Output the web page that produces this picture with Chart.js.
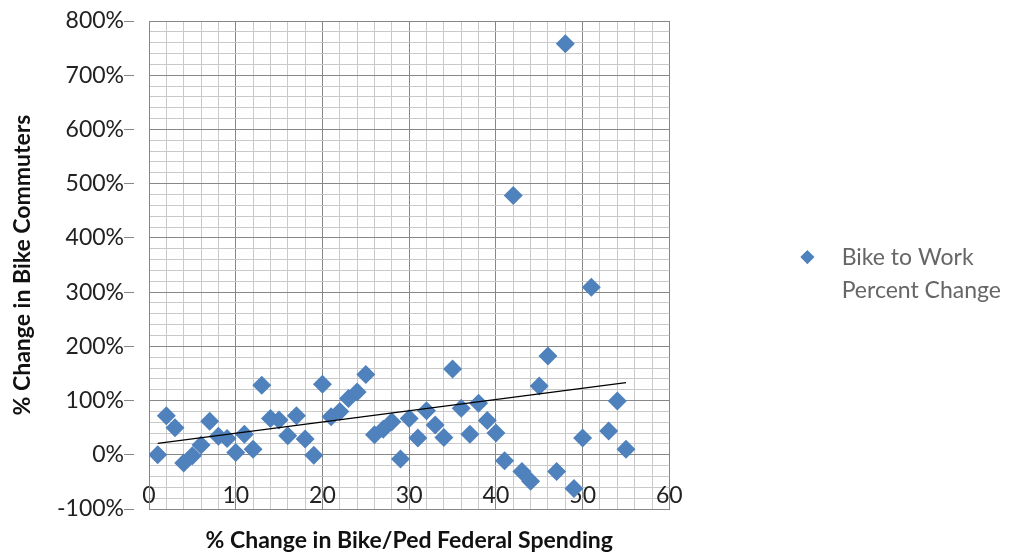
<!DOCTYPE html>
<html>
<head>
<meta charset="utf-8">
<script src="https://cdn.jsdelivr.net/npm/chart.js@4"></script>
<style>
html,body{margin:0;padding:0;background:#fff;}
#wrap{width:1011px;height:554px;position:relative;}
</style>
</head>
<body>
<div id="wrap"><canvas id="c"></canvas></div>
<script>
const seriesName = ['Bike to Work', 'Percent Change'];
const spendingChange = [1,2,3,4,5,6,7,8,9,10,11,12,13,14,15,16,17,18,19,20,21,22,23,24,25,26,27,28,29,30,31,32,33,34,35,36,37,38,39,40,41,42,43,44,45,46,47,48,49,50,51,53,54,55];
const commuterChange = [0,72,50,-15,-2,18,62,34,30,4,38,10,128,67,64,35,72,29,-1,130,70,80,104,116,148,37,47,61,-8,67,31,81,55,32,158,86,38,95,63,40,-11,478,-31,-49,127,182,-31,758,-62,31,309,44,99,10];
const trendX = [1, 55];
const trendY = [21, 133];
const xTitle = '% Change in Bike/Ped Federal Spending';
const yTitle = '% Change in Bike Commuters';

const FONT = 'Lato, Carlito, "Liberation Sans", sans-serif';
const MAJOR = '#878787', MINOR = '#c9c9c9', BLUE = '#4F81BD';

const pts = spendingChange.map((x, i) => ({x: x, y: commuterChange[i]}));
const trend = trendX.map((x, i) => ({x: x, y: trendY[i]}));

new Chart(document.getElementById('c'), {
  type: 'scatter',
  data: {
    datasets: [
      {label: seriesName.join(' '), data: pts, pointStyle: 'rectRot', pointRadius: 9.5, pointHoverRadius: 9.5,
       backgroundColor: BLUE, borderColor: BLUE, borderWidth: 0, order: 1},
      {type: 'line', label: 'trend', data: trend, borderColor: '#000', borderWidth: 1.2, pointRadius: 0,
       fill: false, order: 0}
    ]
  },
  options: {
    responsive: true,
    maintainAspectRatio: false,
    animation: false,
    events: [],
    layout: {padding: {left: 0, right: 0, top: 21, bottom: 0}},
    scales: {
      x: {
        type: 'linear', min: 0, max: 60,
        ticks: {stepSize: 2, autoSkip: false, maxRotation: 0, mirror: true, padding: 0,
          color: '#222', font: {family: FONT, size: 23},
          callback: v => (v % 10 === 0 ? String(v) : '')},
        grid: {drawTicks: false, lineWidth: 1,
          color: c => (c.tick && c.tick.value % 10 === 0 ? MAJOR : MINOR)},
        border: {color: MAJOR, width: 1},
        title: {display: true, text: xTitle, color: '#111',
          font: {family: FONT, size: 23, weight: 'bold'}, padding: {top: 0, bottom: 0}},
        afterFit: s => { s.height = 45; }
      },
      y: {
        type: 'linear', min: -100, max: 800, position: 'left',
        ticks: {stepSize: 20, autoSkip: false, padding: 0,
          color: '#222', font: {family: FONT, size: 23},
          callback: v => (v % 100 === 0 ? v + '%' : '')},
        grid: {drawTicks: true, tickLength: 25, tickBorderDash: [10, 30], lineWidth: 1,
          color: c => (c.tick && c.tick.value % 100 === 0 ? MAJOR : MINOR),
          tickColor: c => (c.tick && c.tick.value % 100 === 0 ? MAJOR : 'rgba(0,0,0,0)')},
        border: {color: MAJOR, width: 1},
        title: {display: true, text: yTitle, color: '#111',
          font: {family: FONT, size: 23, weight: 'bold'}, padding: {top: 9, bottom: 0}},
        afterFit: s => { s.width = 149; }
      },
      y2: {
        type: 'linear', position: 'right', display: false,
        afterFit: s => { s.width = 117; }
      }
    },
    plugins: {
      tooltip: {enabled: false},
      legend: {
        position: 'right', align: 'center', fullSize: false,
        title: {display: true, text: '', font: {size: 1}, padding: {top: 16, bottom: 0}},
        labels: {
          usePointStyle: true, boxWidth: 22, boxHeight: 10, padding: 10,
          color: '#222', font: {family: FONT, size: 23},
          generateLabels: () => [
            {text: '  ' + seriesName[0], fillStyle: BLUE, strokeStyle: BLUE, lineWidth: 0, pointStyle: 'rectRot', hidden: false, datasetIndex: 0},
            {text: '  ' + seriesName[1], fillStyle: 'rgba(0,0,0,0)', strokeStyle: 'rgba(0,0,0,0)', lineWidth: 0, pointStyle: 'rectRot', hidden: false, datasetIndex: 1}
          ]
        }
      }
    }
  }
});
</script>
</body>
</html>
